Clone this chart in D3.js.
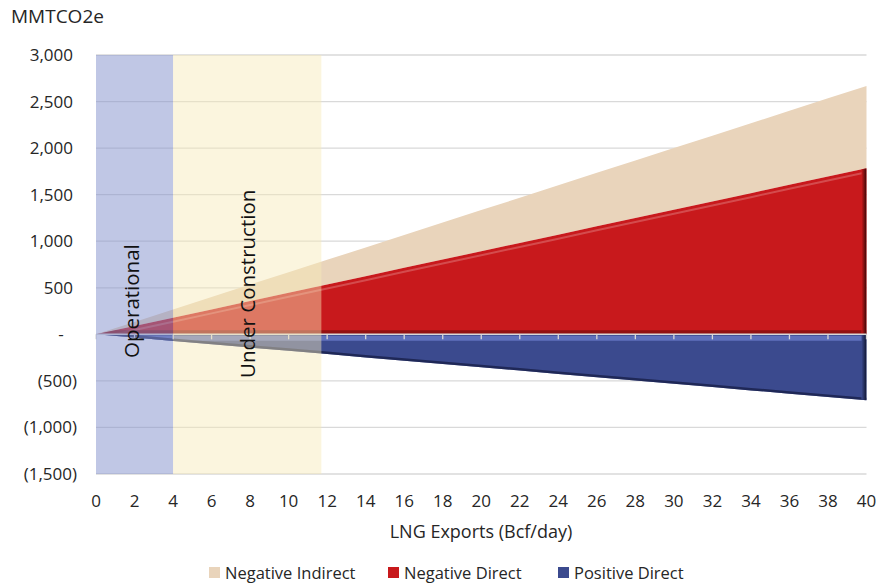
<!DOCTYPE html>
<html>
<head>
<meta charset="utf-8">
<script src="https://cdn.jsdelivr.net/npm/d3@7"></script>
<style>
  html, body { margin: 0; padding: 0; background: #fff; }
  svg text { font-family: "Open Sans", Lato, sans-serif; fill: #262626; }
</style>
</head>
<body>
<svg id="chart" width="882" height="586"></svg>
<script>
// ---- data ----
const exports = [0, 2, 4, 6, 8, 10, 12, 14, 16, 18, 20, 22, 24, 26, 28, 30, 32, 34, 36, 38, 40];
const negativeDirect   = [0, 89, 178, 268, 357, 446, 535, 624, 714, 803, 892, 981, 1070, 1160, 1249, 1338, 1427, 1516, 1606, 1695, 1784];
const negativeIndirect = [0, 44, 88, 133, 177, 221, 265, 309, 354, 398, 442, 486, 530, 575, 619, 663, 707, 751, 796, 840, 884];
const positiveDirect   = [0, -35, -71, -106, -142, -177, -212, -248, -283, -319, -354, -389, -425, -460, -496, -531, -566, -602, -637, -673, -708];
const yTicks = [-1500, -1000, -500, 0, 500, 1000, 1500, 2000, 2500, 3000];
const xTicks = [0, 2, 4, 6, 8, 10, 12, 14, 16, 18, 20, 22, 24, 26, 28, 30, 32, 34, 36, 38, 40];
const bandLabels = ["Operational", "Under Construction"];
const bandStart = [0, 4];
const bandEnd = [4, 11.7];
const seriesNames = ["Negative Indirect", "Negative Direct", "Positive Direct"];

// ---- layout ----
const svg = d3.select("#chart");
const x = d3.scaleLinear().domain([0, 40]).range([96, 866.5]);
const y = d3.scaleLinear().domain([-1500, 3000]).range([474, 55]);
const colors = { indirect: "#e9d4bb", direct: "#c8191c", positive: "#3b4a8e" };

const rows = exports.map((e, i) => ({ e, nd: negativeDirect[i], ni: negativeIndirect[i], pd: positiveDirect[i] }));
const redArea = d3.area().x(d => x(d.e)).y0(y(0)).y1(d => y(d.nd));
const blueArea = d3.area().x(d => x(d.e)).y0(y(0)).y1(d => y(d.pd));

const defs = svg.append("defs");
const gRed = defs.append("linearGradient").attr("id", "redEdge").attr("x1", 0).attr("x2", 1).attr("y1", 0).attr("y2", 0);
gRed.append("stop").attr("offset", "0%").attr("stop-color", "#c8191c");
gRed.append("stop").attr("offset", "100%").attr("stop-color", "#3a0606");
const gBlue = defs.append("linearGradient").attr("id", "blueEdge").attr("x1", 0).attr("x2", 1).attr("y1", 0).attr("y2", 0);
gBlue.append("stop").attr("offset", "0%").attr("stop-color", "#3b4a8e");
gBlue.append("stop").attr("offset", "100%").attr("stop-color", "#0f1530");
defs.append("clipPath").attr("id", "clipRed").append("path").datum(rows).attr("d", redArea);
defs.append("clipPath").attr("id", "clipBlue").append("path").datum(rows).attr("d", blueArea);

// gridlines
svg.append("g").selectAll("line").data(yTicks.filter(d => d !== 0)).join("line")
  .attr("x1", x(0)).attr("x2", x(40)).attr("y1", d => y(d)).attr("y2", d => y(d))
  .attr("stroke", "#d9d9d9").attr("stroke-width", 1.3);

// Negative Indirect (stacked on Negative Direct)
svg.append("path").datum(rows)
  .attr("d", d3.area().x(d => x(d.e)).y0(d => y(d.nd)).y1(d => y(d.nd + d.ni)))
  .attr("fill", colors.indirect);

// Negative Direct with bevel look
svg.append("path").datum(rows).attr("d", redArea).attr("fill", colors.direct);
const redBevel = svg.append("g").attr("clip-path", "url(#clipRed)");
redBevel.append("path").datum(rows)
  .attr("d", d3.line().x(d => x(d.e)).y(d => y(d.nd) + 4))
  .attr("fill", "none").attr("stroke", "#ffffff").attr("stroke-opacity", 0.22).attr("stroke-width", 2);
redBevel.append("line").attr("x1", x(0)).attr("x2", x(40)).attr("y1", y(0) - 2).attr("y2", y(0) - 2)
  .attr("stroke", "#6e0c0c").attr("stroke-opacity", 0.6).attr("stroke-width", 4);
redBevel.append("rect").attr("x", x(40) - 5).attr("width", 5)
  .attr("y", y(negativeDirect[negativeDirect.length - 1])).attr("height", y(0) - y(negativeDirect[negativeDirect.length - 1]))
  .attr("fill", "url(#redEdge)");

// Positive Direct with bevel look
svg.append("path").datum(rows).attr("d", blueArea).attr("fill", colors.positive);
const blueBevel = svg.append("g").attr("clip-path", "url(#clipBlue)");
blueBevel.append("line").attr("x1", x(0)).attr("x2", x(40)).attr("y1", y(0) + 4).attr("y2", y(0) + 4)
  .attr("stroke", "#6a7bc8").attr("stroke-opacity", 0.8).attr("stroke-width", 5);
blueBevel.append("path").datum(rows)
  .attr("d", d3.line().x(d => x(d.e)).y(d => y(d.pd)))
  .attr("fill", "none").attr("stroke", "#141a40").attr("stroke-opacity", 0.7).attr("stroke-width", 5);
blueBevel.append("rect").attr("x", x(40) - 5).attr("width", 5)
  .attr("y", y(0)).attr("height", y(positiveDirect[positiveDirect.length - 1]) - y(0))
  .attr("fill", "url(#blueEdge)");

// zero axis with ticks
svg.append("line").attr("x1", x(0)).attr("x2", x(40)).attr("y1", y(0)).attr("y2", y(0))
  .attr("stroke", "#d9d9d9").attr("stroke-width", 1.5);
svg.append("g").selectAll("line").data(xTicks).join("line")
  .attr("x1", d => x(d)).attr("x2", d => x(d)).attr("y1", y(0)).attr("y2", y(0) + 5)
  .attr("stroke", "#d9d9d9").attr("stroke-width", 1.3);

// bands overlay (semi-transparent)
const bandFill = ["#8290cc", "#f6e9b8"];
const bandOpacity = [0.5, 0.46];
svg.append("g").selectAll("rect").data(bandLabels).join("rect")
  .attr("x", (d, i) => x(bandStart[i])).attr("width", (d, i) => x(bandEnd[i]) - x(bandStart[i]))
  .attr("y", y(3000)).attr("height", y(-1500) - y(3000))
  .attr("fill", (d, i) => bandFill[i]).attr("fill-opacity", (d, i) => bandOpacity[i]);

const bandTextX = [132, 248];
const bandTextY = [358, 378];
svg.append("g").selectAll("text").data(bandLabels).join("text")
  .attr("transform", (d, i) => `translate(${bandTextX[i] + 7},${bandTextY[i]}) rotate(-90)`)
  .attr("font-size", 20.5).style("fill", "#111")
  .text(d => d);

// y axis labels (accounting format)
const fmt = d3.format(",");
svg.append("g").selectAll("text").data(yTicks).join("text")
  .attr("x", d => d < 0 ? 77 : (d === 0 ? 61 : 73))
  .attr("y", d => y(d))
  .attr("dy", "0.35em")
  .attr("text-anchor", d => d === 0 ? "middle" : "end")
  .attr("font-size", 17)
  .text(d => d === 0 ? "-" : (d < 0 ? `(${fmt(-d)})` : fmt(d)));

// x axis labels
svg.append("g").selectAll("text").data(xTicks).join("text")
  .attr("x", d => x(d)).attr("y", 507)
  .attr("text-anchor", "middle").attr("font-size", 17)
  .text(d => d);

// titles
svg.append("text").attr("x", 11).attr("y", 23).attr("font-size", 19).text("MMTCO2e");
svg.append("text").attr("x", 481).attr("y", 538).attr("text-anchor", "middle").attr("font-size", 18).text("LNG Exports (Bcf/day)");

// legend
const legendX = [209, 388, 558];
const legendColors = [colors.indirect, colors.direct, colors.positive];
const lg = svg.append("g").selectAll("g").data(seriesNames).join("g")
  .attr("transform", (d, i) => `translate(${legendX[i]},567)`);
lg.append("rect").attr("width", 11).attr("height", 11).attr("fill", (d, i) => legendColors[i]);
lg.append("text").attr("x", 16).attr("y", 11.5).attr("font-size", 16.5).text(d => d);
</script>
</body>
</html>
